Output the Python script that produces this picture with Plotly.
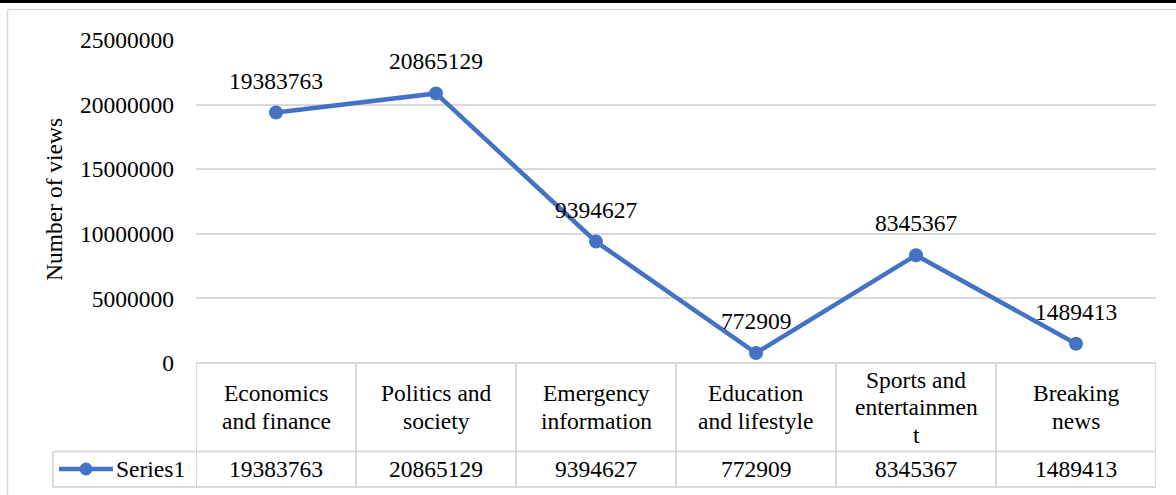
import plotly.graph_objects as go

categories = ["Economics and finance", "Politics and society", "Emergency information",
              "Education and lifestyle", "Sports and entertainment", "Breaking news"]
header_labels = ["Economics<br>and finance", "Politics and<br>society", "Emergency<br>information",
                 "Education<br>and lifestyle", "Sports and<br>entertainmen<br>t", "Breaking<br>news"]
views = [19383763, 20865129, 9394627, 772909, 8345367, 1489413]
series_name = "Series1"
y_ticks = [0, 5000000, 10000000, 15000000, 20000000, 25000000]

W, H = 1176, 495
FONT = "Liberation Serif, Times New Roman, serif"
FS = 23.5
BLUE = "#4472C4"
GRID = "#d9d9d9"
F = dict(family=FONT, size=FS, color="black")

def px(x):
    return x / W

def py(y):
    return 1 - y / H

fig = go.Figure()
fig.add_trace(go.Scatter(
    x=list(range(len(categories))), y=views, mode="lines+markers",
    line=dict(color=BLUE, width=4.5),
    marker=dict(color=BLUE, size=14),
    name=series_name, showlegend=False, hoverinfo="skip",
))

x0p, x1p = px(196), px(1156)
ytop, ybot = 40, 363
fig.update_layout(
    template="none",
    width=W, height=H, autosize=False,
    margin=dict(l=0, r=0, t=0, b=0, pad=0),
    paper_bgcolor="white", plot_bgcolor="white",
    font=F,
    xaxis=dict(domain=[x0p, x1p], range=[-0.5, len(categories) - 0.5], automargin=False,
               showticklabels=False, ticks="", showgrid=False, zeroline=False, showline=False,
               fixedrange=True),
    yaxis=dict(domain=[py(ybot), py(ytop)], range=[0, 25000000], automargin=False,
               tickvals=y_ticks, ticktext=[str(v) for v in y_ticks], ticks="", showline=False,
               showgrid=True, gridcolor=GRID, gridwidth=1.5, zeroline=False,
               ticklabelstandoff=21, tickfont=F, fixedrange=True),
)

shapes = []
shapes.append(dict(type="rect", xref="paper", yref="paper", x0=0, x1=1, y0=py(3), y1=1,
                   fillcolor="black", line=dict(width=0), layer="above"))
shapes.append(dict(type="line", xref="paper", yref="paper", x0=px(7.5), x1=1, y0=py(9.5), y1=py(9.5),
                   line=dict(color=GRID, width=1.5)))
shapes.append(dict(type="line", xref="paper", yref="paper", x0=px(7.5), x1=px(7.5), y0=py(9.5), y1=0,
                   line=dict(color=GRID, width=1.5)))
row1, row2, row3 = 363, 451.5, 487
tcol = dict(color=GRID, width=2)
shapes.append(dict(type="line", xref="paper", yref="paper", x0=x0p, x1=x1p, y0=py(row1), y1=py(row1), line=tcol))
for r in (row2, row3):
    shapes.append(dict(type="line", xref="paper", yref="paper", x0=px(53), x1=x1p, y0=py(r), y1=py(r), line=tcol))
shapes.append(dict(type="line", xref="paper", yref="paper", x0=px(53), x1=px(53), y0=py(row2), y1=py(row3), line=tcol))
for i in range(len(categories) + 1):
    shapes.append(dict(type="line", xref="x", yref="paper", x0=i - 0.5, x1=i - 0.5,
                       y0=py(row1), y1=py(row3), line=tcol))
shapes.append(dict(type="line", xref="paper", yref="paper", x0=px(59), x1=px(113), y0=py(469), y1=py(469),
                   line=dict(color=BLUE, width=4.5)))
shapes.append(dict(type="circle", xref="paper", yref="paper", x0=px(79.5), x1=px(92.5),
                   y0=py(475.5), y1=py(462.5), fillcolor=BLUE, line=dict(width=0)))
fig.update_layout(shapes=shapes)

ann = []
for i, v in enumerate(views):
    ann.append(dict(x=i, y=v, xref="x", yref="y", text=str(v), showarrow=False,
                    yshift=32, font=F))
hdr_center = 407
lh = 27.5
for i, lab in enumerate(header_labels):
    lines = lab.split("<br>")
    n = len(lines)
    for k, ln in enumerate(lines):
        yc = hdr_center + (k - (n - 1) / 2) * lh
        ann.append(dict(x=i, y=py(yc), xref="x", yref="paper", text=ln, showarrow=False,
                        yanchor="middle", font=F))
for i, v in enumerate(views):
    ann.append(dict(x=i, y=py(469), xref="x", yref="paper", text=str(v), showarrow=False,
                    yanchor="middle", font=F))
ann.append(dict(x=px(187), y=py(469), xref="paper", yref="paper", text=series_name, showarrow=False,
                xanchor="right", yanchor="middle", font=F))
ann.append(dict(x=px(54), y=py(200), xref="paper", yref="paper", text="Number of views", showarrow=False,
                textangle=-90, xanchor="center", yanchor="middle", font=F))
fig.update_layout(annotations=ann)

fig.write_html("out.html", config={"displayModeBar": False, "responsive": False},
               post_script="document.body.style.margin='0';document.body.style.overflow='hidden';")
